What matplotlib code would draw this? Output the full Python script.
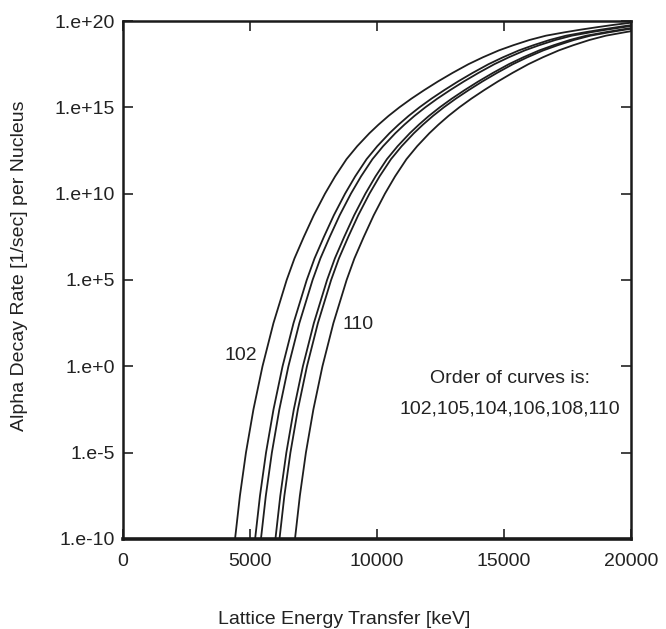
import numpy as np
import matplotlib
matplotlib.use("Agg")
import matplotlib.pyplot as plt

plt.rcParams['font.family'] = ['Liberation Sans', 'DejaVu Sans']

# lattice energy transfer (keV) and log10 of the alpha decay rate along each curve
e_102 = [4410, 4602, 4840, 5134, 5491, 5922, 6443, 6750, 7119, 7510, 7952, 8350,
         8800, 9220, 9700, 10060, 10450, 10880, 11350, 11860, 12400, 12980, 13600,
         14170, 14800, 15370, 16000, 16650, 17400, 18020, 18700, 19330, 20000]
lg_102 = [-10, -7.5, -5, -2.5, 0, 2.5, 5, 6.25, 7.5, 8.75, 10, 11,
          12, 12.75, 13.5, 14, 14.5, 15, 15.5, 16, 16.5, 17, 17.5,
          17.9, 18.3, 18.6, 18.9, 19.15, 19.35, 19.5, 19.65, 19.78, 19.9]

e_105 = [5200, 5392, 5630, 5924, 6281, 6712, 7233, 7540, 7909, 8300, 8742, 9140,
         9590, 10010, 10490, 10850, 11240, 11670, 12140, 12650, 13190, 13770, 14390,
         14960, 15590, 16160, 16790, 17440, 18190, 18810, 19490, 20000]
lg_105 = [-10, -7.5, -5, -2.5, 0, 2.5, 5, 6.25, 7.5, 8.75, 10, 11,
          12, 12.75, 13.5, 14, 14.5, 15, 15.5, 16, 16.5, 17, 17.5,
          17.9, 18.3, 18.6, 18.9, 19.15, 19.35, 19.5, 19.65, 19.76]

e_104 = [5430, 5622, 5860, 6154, 6511, 6942, 7463, 7770, 8139, 8530, 8972, 9370,
         9820, 10240, 10720, 11080, 11470, 11900, 12370, 12880, 13420, 14000, 14620,
         15190, 15820, 16390, 17020, 17670, 18420, 19040, 19720, 20000]
lg_104 = [-10, -7.5, -5, -2.5, 0, 2.5, 5, 6.25, 7.5, 8.75, 10, 11,
          12, 12.75, 13.5, 14, 14.5, 15, 15.5, 16, 16.5, 17, 17.5,
          17.9, 18.3, 18.6, 18.9, 19.15, 19.35, 19.5, 19.65, 19.71]

e_106 = [6000, 6192, 6430, 6724, 7081, 7512, 8033, 8340, 8709, 9100, 9542, 9940,
         10390, 10810, 11290, 11650, 12040, 12470, 12940, 13450, 13990, 14570, 15190,
         15760, 16390, 16960, 17590, 18240, 18990, 19610, 20000]
lg_106 = [-10, -7.5, -5, -2.5, 0, 2.5, 5, 6.25, 7.5, 8.75, 10, 11,
          12, 12.75, 13.5, 14, 14.5, 15, 15.5, 16, 16.5, 17, 17.5,
          17.9, 18.3, 18.6, 18.9, 19.15, 19.35, 19.5, 19.59]

e_108 = [6160, 6352, 6590, 6884, 7241, 7672, 8193, 8500, 8869, 9260, 9702, 10100,
         10550, 10970, 11450, 11810, 12200, 12630, 13100, 13610, 14150, 14730, 15350,
         15920, 16550, 17120, 17750, 18400, 19150, 19770, 20000]
lg_108 = [-10, -7.5, -5, -2.5, 0, 2.5, 5, 6.25, 7.5, 8.75, 10, 11,
          12, 12.75, 13.5, 14, 14.5, 15, 15.5, 16, 16.5, 17, 17.5,
          17.9, 18.3, 18.6, 18.9, 19.15, 19.35, 19.5, 19.55]

e_110 = [6770, 6962, 7200, 7494, 7851, 8282, 8803, 9110, 9479, 9870, 10312, 10710,
         11160, 11580, 12060, 12420, 12810, 13240, 13710, 14220, 14760, 15340, 15960,
         16530, 17160, 17730, 18360, 19010, 19760, 20000]
lg_110 = [-10, -7.5, -5, -2.5, 0, 2.5, 5, 6.25, 7.5, 8.75, 10, 11,
          12, 12.75, 13.5, 14, 14.5, 15, 15.5, 16, 16.5, 17, 17.5,
          17.9, 18.3, 18.6, 18.9, 19.15, 19.35, 19.41]

curves = [(e_102, lg_102), (e_105, lg_105), (e_104, lg_104),
          (e_106, lg_106), (e_108, lg_108), (e_110, lg_110)]

x_ticks = [0, 5000, 10000, 15000, 20000]
y_exps = [-10, -5, 0, 5, 10, 15, 20]
y_labels = ["1.e-10", "1.e-5", "1.e+0", "1.e+5", "1.e+10", "1.e+15", "1.e+20"]

ink = "#222222"
fs = 14

fig = plt.figure(figsize=(6.66, 6.29), dpi=100)
ax = fig.add_axes([0.1847, 0.1431, 0.7628, 0.8235])

for e, lg in curves:
    ax.plot(e, 10.0 ** np.array(lg), color="#1e1e1e", lw=1.3)

ax.set_yscale("log")
ax.set_xlim(0, 20000)
ax.set_ylim(1e-10, 1e20)
ax.set_xticks(x_ticks)
ax.set_xticklabels([str(t) for t in x_ticks])
ax.set_yticks([10.0 ** p for p in y_exps])
ax.set_yticklabels(y_labels)
ax.minorticks_off()
ax.tick_params(direction="in", length=7, width=1.2, top=True, right=True,
               labelsize=fs, colors=ink)
ax.tick_params(axis="x", pad=10)
ax.tick_params(axis="y", pad=6)
for side in ax.spines.values():
    side.set_linewidth(1.8)
    side.set_color("#1a1a1a")
ax.spines["bottom"].set_linewidth(2.6)

ax.text(4646, 10 ** 0.6, "102", ha="center", va="center", fontsize=fs, color=ink)
ax.text(9252, 10 ** 2.4, "110", ha="center", va="center", fontsize=fs, color=ink)
ax.text(15236, 10 ** -0.73, "Order of curves is:", ha="center", va="center",
        fontsize=fs, color=ink)
ax.text(15236, 10 ** -2.47, "102,105,104,106,108,110", ha="center", va="center",
        fontsize=fs, color=ink)

fig.text(344 / 666, 1 - 619 / 629, "Lattice Energy Transfer [keV]",
         ha="center", va="center", fontsize=fs, color=ink)
fig.text(19.5 / 666, 1 - 266 / 629, "Alpha Decay Rate [1/sec] per Nucleus",
         ha="center", va="center", rotation=90, fontsize=fs, color=ink)

fig.savefig("out.png", dpi=100)
